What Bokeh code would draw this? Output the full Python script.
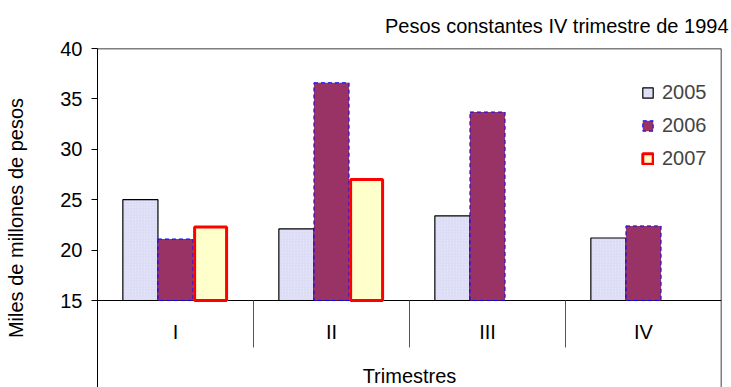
from bokeh.plotting import figure
from bokeh.models import Range1d, FixedTicker, Span, Legend, LegendItem, ColumnDataSource
from bokeh.core.properties import value
from bokeh.embed import file_html
from bokeh.resources import INLINE
import numpy as np

# Quarterly values, miles de millones de pesos (constant 1994 pesos)
trimestres = ["I", "II", "III", "IV"]
years = ["2005", "2006", "2007"]
v2005 = [25.0, 22.1, 23.4, 21.2]
v2006 = [21.1, 36.6, 33.7, 22.4]
v2007 = [22.3, 27.0, None, None]
yticks = [15, 20, 25, 30, 35, 40]

FONT = "Liberation Sans"
FS = "20px"
Y_BASE = 15
Y_TOP = 40
Y_BOTTOM = 6.37   # extra room under the bars for the category table
BAR_W = 0.225

p = figure(width=731, height=387, output_backend="svg", toolbar_location=None,
           x_range=Range1d(0, len(trimestres)), y_range=Range1d(Y_BOTTOM, Y_TOP),
           min_border_left=97, min_border_right=10, min_border_top=48, min_border_bottom=0,
           title="Pesos constantes IV trimestre de 1994")
p.title.align = "right"
p.title.vertical_align = "top"
p.title.offset = -7
p.title.standoff = 20
p.title.text_font = FONT
p.title.text_font_size = FS
p.title.text_font_style = "normal"
p.title.text_color = "black"

p.outline_line_color = None
p.xgrid.visible = False
p.ygrid.visible = False
p.xaxis.visible = False
p.background_fill_color = "white"
p.border_fill_color = "white"

yax = p.yaxis[0]
yax.ticker = FixedTicker(ticks=yticks)
yax.minor_tick_line_color = None
yax.major_tick_out = 6
yax.major_tick_in = 0
yax.major_label_standoff = 9
yax.major_label_text_font = FONT
yax.major_label_text_font_size = FS
yax.major_label_text_color = "black"
yax.axis_line_color = "black"
yax.major_tick_line_color = "black"
yax.axis_label = "Miles de millones de pesos"
yax.axis_label_text_font = FONT
yax.axis_label_text_font_size = FS
yax.axis_label_text_font_style = "normal"
yax.axis_label_text_color = "black"
yax.axis_label_standoff = 30

centers = np.arange(len(trimestres)) + 0.5

def bars(vals, offset):
    xs = [c + offset for c, v in zip(centers, vals) if v is not None]
    tops = [v for v in vals if v is not None]
    return ColumnDataSource(dict(x=xs, top=tops))

# base line sits under the bars
p.add_layout(Span(location=Y_BASE, dimension="width", line_color="black", line_width=1.2,
                  level="underlay"))

r05 = p.vbar(x="x", top="top", bottom=Y_BASE, width=BAR_W, source=bars(v2005, -BAR_W),
             fill_color="#E6E6FA", line_color="black", line_width=1.2,
             hatch_pattern="right_diagonal_line", hatch_color="#CFCFF0",
             hatch_scale=3, hatch_weight=0.6)
r06 = p.vbar(x="x", top="top", bottom=Y_BASE, width=BAR_W, source=bars(v2006, 0),
             fill_color="#993366", line_color="#0000FF", line_width=1, line_dash="4 3")
r07 = p.vbar(x="x", top="top", bottom=Y_BASE, width=BAR_W - 0.02, source=bars(v2007, BAR_W),
             fill_color="#FFFFCC", line_color="#FF0000", line_width=3)

# top and right border of the frame
p.add_layout(Span(location=Y_TOP, dimension="width", line_color="black", line_width=1.5))
p.add_layout(Span(location=len(trimestres), dimension="height", line_color="black", line_width=1.5))

# separators of the category table
sep_x = list(range(1, len(trimestres)))
p.segment(x0=sep_x, x1=sep_x, y0=[Y_BASE] * len(sep_x), y1=[10.34] * len(sep_x),
          line_color="#555555", line_width=1)

p.text(x=list(centers), y=[11.92] * len(trimestres), text=trimestres,
       text_font=value(FONT), text_font_size=FS, text_align="center",
       text_baseline="middle", text_color="black")
p.text(x=[len(trimestres) / 2], y=[7.56], text=["Trimestres"],
       text_font=value(FONT), text_font_size=FS, text_align="center",
       text_baseline="middle", text_color="black")

legend = Legend(items=[LegendItem(label=years[0], renderers=[r05]),
                       LegendItem(label=years[1], renderers=[r06]),
                       LegendItem(label=years[2], renderers=[r07])],
                location=(544, 217), padding=0, margin=0, spacing=10,
                glyph_width=13, glyph_height=13, label_height=22, label_standoff=8,
                label_text_font=FONT, label_text_font_size=FS,
                border_line_color=None, background_fill_alpha=0)
p.add_layout(legend)

open("out.html", "w").write(file_html(p, INLINE))
